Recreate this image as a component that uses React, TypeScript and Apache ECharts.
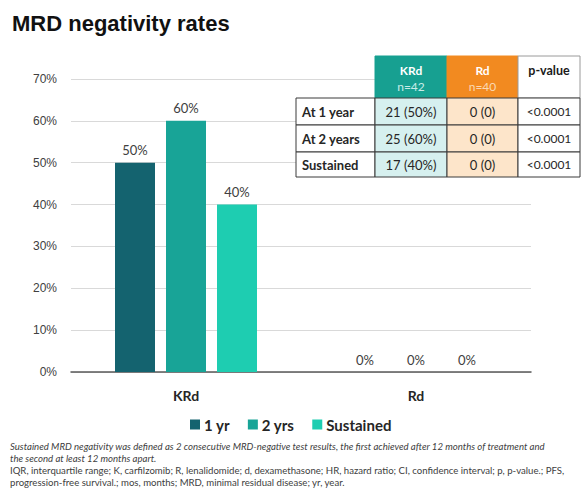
import React, { useEffect, useRef } from "react";
import * as echarts from "echarts";

// Bar chart data (percent of patients MRD-negative)
const categories = ["KRd", "Rd"];
const seriesNames = ["1 yr", "2 yrs", "Sustained"];
const oneYear = [50, 0];
const twoYears = [60, 0];
const sustained = [40, 0];
const yTicks = { min: 0, max: 70, step: 10 };

// Inset table
const tableHeaders = ["KRd", "Rd", "p-value"];
const tableSubHeaders = ["n=42", "n=40", ""];
const tableRowLabels = ["At 1 year", "At 2 years", "Sustained"];
const krdCells = ["21 (50%)", "25 (60%)", "17 (40%)"];
const rdCells = ["0 (0)", "0 (0)", "0 (0)"];
const pValues = ["<0.0001", "<0.0001", "<0.0001"];

const footnotes = [
  "Sustained MRD negativity was defined as 2 consecutive MRD-negative test results, the first achieved after 12 months of treatment and",
  "the second at least 12 months apart.",
  "IQR, interquartile range; K, carfilzomib; R, lenalidomide; d, dexamethasone; HR, hazard ratio; CI, confidence interval; p, p-value.; PFS,",
  "progression-free survival.; mos, months; MRD, minimal residual disease; yr, year.",
];

const COLORS = ["#14636f", "#18a497", "#1ecdb1"];
const BODY_FONT = "Lato, 'Open Sans', sans-serif";

function buildTable(): any[] {
  const colX = [296, 375, 447, 518, 580];
  const rowY = [56, 98, 125, 152, 177];
  const els: any[] = [];
  const headFill = ["#17a091", "#f28a20", "#ffffff"];
  const bodyFill = ["#ffffff", "#d6f0ef", "#fde5ca", "#ffffff"];
  const line = "#3a3a3a";

  // header cells
  for (let c = 0; c < 3; c++) {
    const x0 = colX[c + 1];
    const x1 = colX[c + 2];
    els.push({
      type: "rect",
      shape: { x: x0, y: rowY[0], width: x1 - x0, height: rowY[1] - rowY[0] },
      style: { fill: headFill[c], stroke: c === 2 ? "#9a9a9a" : headFill[c], lineWidth: 1 },
      z: 10,
    });
    const cx = (x0 + x1) / 2;
    if (c < 2) {
      els.push({
        type: "text",
        x: cx,
        y: 70,
        style: { text: tableHeaders[c], fill: "#ffffff", font: `bold 12px ${BODY_FONT}`, align: "center", verticalAlign: "middle" },
        z: 11,
      });
      els.push({
        type: "text",
        x: cx,
        y: 86,
        style: { text: tableSubHeaders[c], fill: c === 0 ? "#c9ece8" : "#fbd9b4", font: `12px ${BODY_FONT}`, align: "center", verticalAlign: "middle" },
        z: 11,
      });
    } else {
      els.push({
        type: "text",
        x: cx,
        y: 70,
        style: { text: tableHeaders[c], fill: "#1a1a1a", font: `bold 12.5px ${BODY_FONT}`, align: "center", verticalAlign: "middle" },
        z: 11,
      });
    }
  }

  // body cells
  const cols = [tableRowLabels, krdCells, rdCells, pValues];
  for (let r = 0; r < 3; r++) {
    for (let c = 0; c < 4; c++) {
      const x0 = colX[c];
      const x1 = colX[c + 1];
      els.push({
        type: "rect",
        shape: { x: x0, y: rowY[r + 1], width: x1 - x0, height: rowY[r + 2] - rowY[r + 1] },
        style: { fill: bodyFill[c], stroke: line, lineWidth: 1 },
        z: 10,
      });
      els.push({
        type: "text",
        x: c === 0 ? x0 + 6 : (x0 + x1) / 2,
        y: (rowY[r + 1] + rowY[r + 2]) / 2,
        style: {
          text: cols[c][r],
          fill: "#262626",
          font: `${c === 0 ? "bold " : ""}${c === 3 ? 12 : 13}px ${BODY_FONT}`,
          align: c === 0 ? "left" : "center",
          verticalAlign: "middle",
        },
        z: 11,
      });
    }
  }
  return els;
}

function buildFootnotes(): any[] {
  const ys = [446, 458, 470, 482];
  return footnotes.map((t, i) => ({
    type: "text",
    x: 10,
    y: ys[i],
    style: {
      text: t,
      fill: "#404040",
      font: `${i < 2 ? "italic " : ""}9.6px ${BODY_FONT}`,
      verticalAlign: "middle",
    },
  }));
}

export default function App() {
  const ref = useRef<HTMLDivElement>(null);

  useEffect(() => {
    if (!ref.current) return;
    const chart = echarts.init(ref.current, undefined, { renderer: "svg" });
    const values = [oneYear, twoYears, sustained];

    chart.setOption({
      animation: false,
      backgroundColor: "#ffffff",
      title: {
        text: "MRD negativity rates",
        left: 7,
        top: 7,
        textStyle: { fontFamily: "'Liberation Sans', Arial, sans-serif", fontWeight: "bold", fontSize: 22, color: "#111111" },
      },
      legend: {
        left: 185,
        top: 412,
        itemWidth: 10,
        itemHeight: 10,
        itemGap: 18,
        icon: "rect",
        data: seriesNames,
        textStyle: { fontFamily: BODY_FONT, fontWeight: "bold", fontSize: 15, color: "#262626", padding: [0, 0, 0, -1] },
      },
      grid: { left: 71, right: 51, top: 79, bottom: 116, containLabel: false },
      xAxis: {
        type: "category",
        data: categories,
        axisLine: { lineStyle: { color: "#595959", width: 1.5 } },
        axisTick: { show: false },
        axisLabel: { fontFamily: BODY_FONT, fontWeight: "bold", fontSize: 14, color: "#262626", margin: 16 },
      },
      yAxis: {
        type: "value",
        min: yTicks.min,
        max: yTicks.max,
        interval: yTicks.step,
        axisLabel: {
          formatter: "{value}%",
          fontFamily: "'Liberation Sans', Arial, sans-serif",
          fontSize: 12,
          color: "#404040",
          margin: 14,
        },
        axisLine: { show: false },
        axisTick: { show: false },
        splitLine: { lineStyle: { color: "#d9d9d9", width: 1 } },
      },
      series: seriesNames.map((name, i) => ({
        name,
        type: "bar",
        data: values[i],
        barWidth: 40,
        barGap: "27.5%",
        barCategoryGap: "38%",
        itemStyle: { color: COLORS[i] },
        label: {
          show: true,
          position: "top",
          distance: 6,
          formatter: "{c}%",
          fontFamily: BODY_FONT,
          fontSize: 13,
          color: "#404040",
        },
      })),
      graphic: [...buildTable(), ...buildFootnotes()],
    });

    return () => chart.dispose();
  }, []);

  return (
    <div
      ref={ref}
      style={{ position: "fixed", left: 0, top: 0, width: 582, height: 488, background: "#fff" }}
    />
  );
}
